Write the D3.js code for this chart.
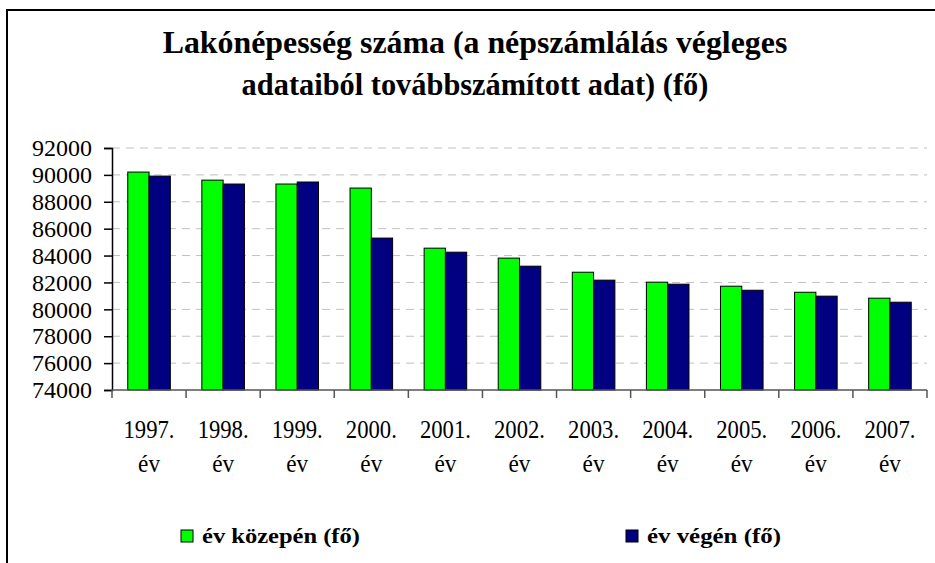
<!DOCTYPE html>
<html>
<head>
<meta charset="utf-8">
<script src="https://cdn.jsdelivr.net/npm/d3@7/dist/d3.min.js"></script>
<style>
  html, body { margin: 0; padding: 0; background: #fff; }
  svg { display: block; }
  text { font-family: "Liberation Serif", "Times New Roman", serif; }
</style>
</head>
<body>
<svg id="chart" width="935" height="563"></svg>
<script>
const titleLines = ["Lakónépesség száma (a népszámlálás végleges", "adataiból továbbszámított adat) (fő)"];
const years = ["1997.", "1998.", "1999.", "2000.", "2001.", "2002.", "2003.", "2004.", "2005.", "2006.", "2007."];
const yearSuffix = "év";
const seriesNames = ["év közepén (fő)", "év végén (fő)"];
const seriesColors = ["#00ff00", "#000080"];
const midYear = [90210, 89610, 89320, 89020, 84550, 83810, 82760, 82020, 81720, 81270, 80830];
const endYear = [89910, 89320, 89470, 85300, 84250, 83210, 82170, 81870, 81420, 80980, 80530];
const yTicks = [74000, 76000, 78000, 80000, 82000, 84000, 86000, 88000, 90000, 92000];
const yDomain = [74000, 92000];

(function () {
const svg = d3.select("#chart");

svg.append("rect").attr("x", 7).attr("y", 10).attr("width", 1000).attr("height", 1000)
  .attr("fill", "none").attr("stroke", "#000").attr("stroke-width", 2);

function fitWidth(sel, target, anchorX) {
  sel.each(function() {
    const w = this.getComputedTextLength();
    const s = target / w;
    d3.select(this).attr("transform", `translate(${anchorX},0) scale(${s},1) translate(${-anchorX},0)`);
  });
}

const titleCenter = 475;
const t1 = svg.append("text").attr("x", titleCenter).attr("y", 53).attr("text-anchor", "middle")
  .attr("font-size", 31).attr("font-weight", "bold").text(titleLines[0]);
fitWidth(t1, 625, titleCenter);
const t2 = svg.append("text").attr("x", titleCenter).attr("y", 95).attr("text-anchor", "middle")
  .attr("font-size", 31).attr("font-weight", "bold").text(titleLines[1]);
fitWidth(t2, 467, titleCenter);

const pL = 112, pR = 927, pT = 148, pB = 390;
const x0 = d3.scaleBand().domain(years).range([pL, pR]).padding(0);
const x1 = d3.scaleBand().domain(seriesNames).range([0, x0.bandwidth()]).paddingInner(0).paddingOuter(0.74);
const y = d3.scaleLinear().domain(yDomain).range([pB, pT]);

svg.append("g").selectAll("line").data(yTicks.filter(v => v > yDomain[0])).join("line")
  .attr("x1", pL).attr("x2", pR).attr("y1", d => y(d)).attr("y2", d => y(d))
  .attr("stroke", "#c0c0c0").attr("stroke-width", 1).attr("stroke-dasharray", "8,6");

const data = years.map((yr, i) => ({ yr, vals: [midYear[i], endYear[i]] }));
const groups = svg.append("g").selectAll("g").data(data).join("g")
  .attr("transform", d => `translate(${x0(d.yr)},0)`);
groups.selectAll("rect").data(d => d.vals.map((v, k) => ({ v, k }))).join("rect")
  .attr("x", d => x1(seriesNames[d.k]))
  .attr("y", d => y(d.v))
  .attr("width", x1.bandwidth())
  .attr("height", d => y(yDomain[0]) - y(d.v))
  .attr("fill", d => seriesColors[d.k])
  .attr("stroke", "#000").attr("stroke-width", 1);

const yAxis = d3.axisLeft(y).tickValues(yTicks).tickSize(8).tickPadding(12).tickFormat(d3.format("d"));
const gy = svg.append("g").attr("transform", `translate(${pL},0)`).call(yAxis);
gy.select(".domain").attr("stroke", "#000").attr("stroke-width", 1.5);
gy.selectAll(".tick line").attr("stroke", "#000").attr("stroke-width", 1.5);
gy.selectAll(".tick text").attr("font-size", 24).attr("fill", "#000")
  .attr("font-family", "Liberation Serif, serif");

svg.append("line").attr("x1", pL).attr("x2", pR).attr("y1", pB).attr("y2", pB)
  .attr("stroke", "#555").attr("stroke-width", 1.5);
const boundaries = years.map(yr => x0(yr)).concat([x0(years[years.length - 1]) + x0.bandwidth()]);
svg.append("g").selectAll("line").data(boundaries).join("line")
  .attr("x1", d => d).attr("x2", d => d).attr("y1", pB).attr("y2", pB + 8)
  .attr("stroke", "#555").attr("stroke-width", 1.5);

const xl = svg.append("g").selectAll("g").data(years).join("g");
xl.append("text").attr("x", d => x0(d) + x0.bandwidth() / 2).attr("y", 438)
  .attr("text-anchor", "middle").attr("font-size", 25).text(d => d)
  .each(function(d) { fitWidth(d3.select(this), 51, x0(d) + x0.bandwidth() / 2); });
xl.append("text").attr("x", d => x0(d) + x0.bandwidth() / 2).attr("y", 472)
  .attr("text-anchor", "middle").attr("font-size", 25).text(yearSuffix)
  .each(function(d) { fitWidth(d3.select(this), 22, x0(d) + x0.bandwidth() / 2); });

const legendX = [181, 626];
const legendW = [158, 134];
seriesNames.forEach((name, i) => {
  svg.append("rect").attr("x", legendX[i]).attr("y", 530).attr("width", 12).attr("height", 12)
    .attr("fill", seriesColors[i]).attr("stroke", "#000").attr("stroke-width", 1);
  const tx = legendX[i] + 21;
  const t = svg.append("text").attr("x", tx).attr("y", 543).attr("font-size", 22)
    .attr("font-weight", "bold").text(name);
  fitWidth(t, legendW[i], tx);
});
})();
</script>
</body>
</html>
